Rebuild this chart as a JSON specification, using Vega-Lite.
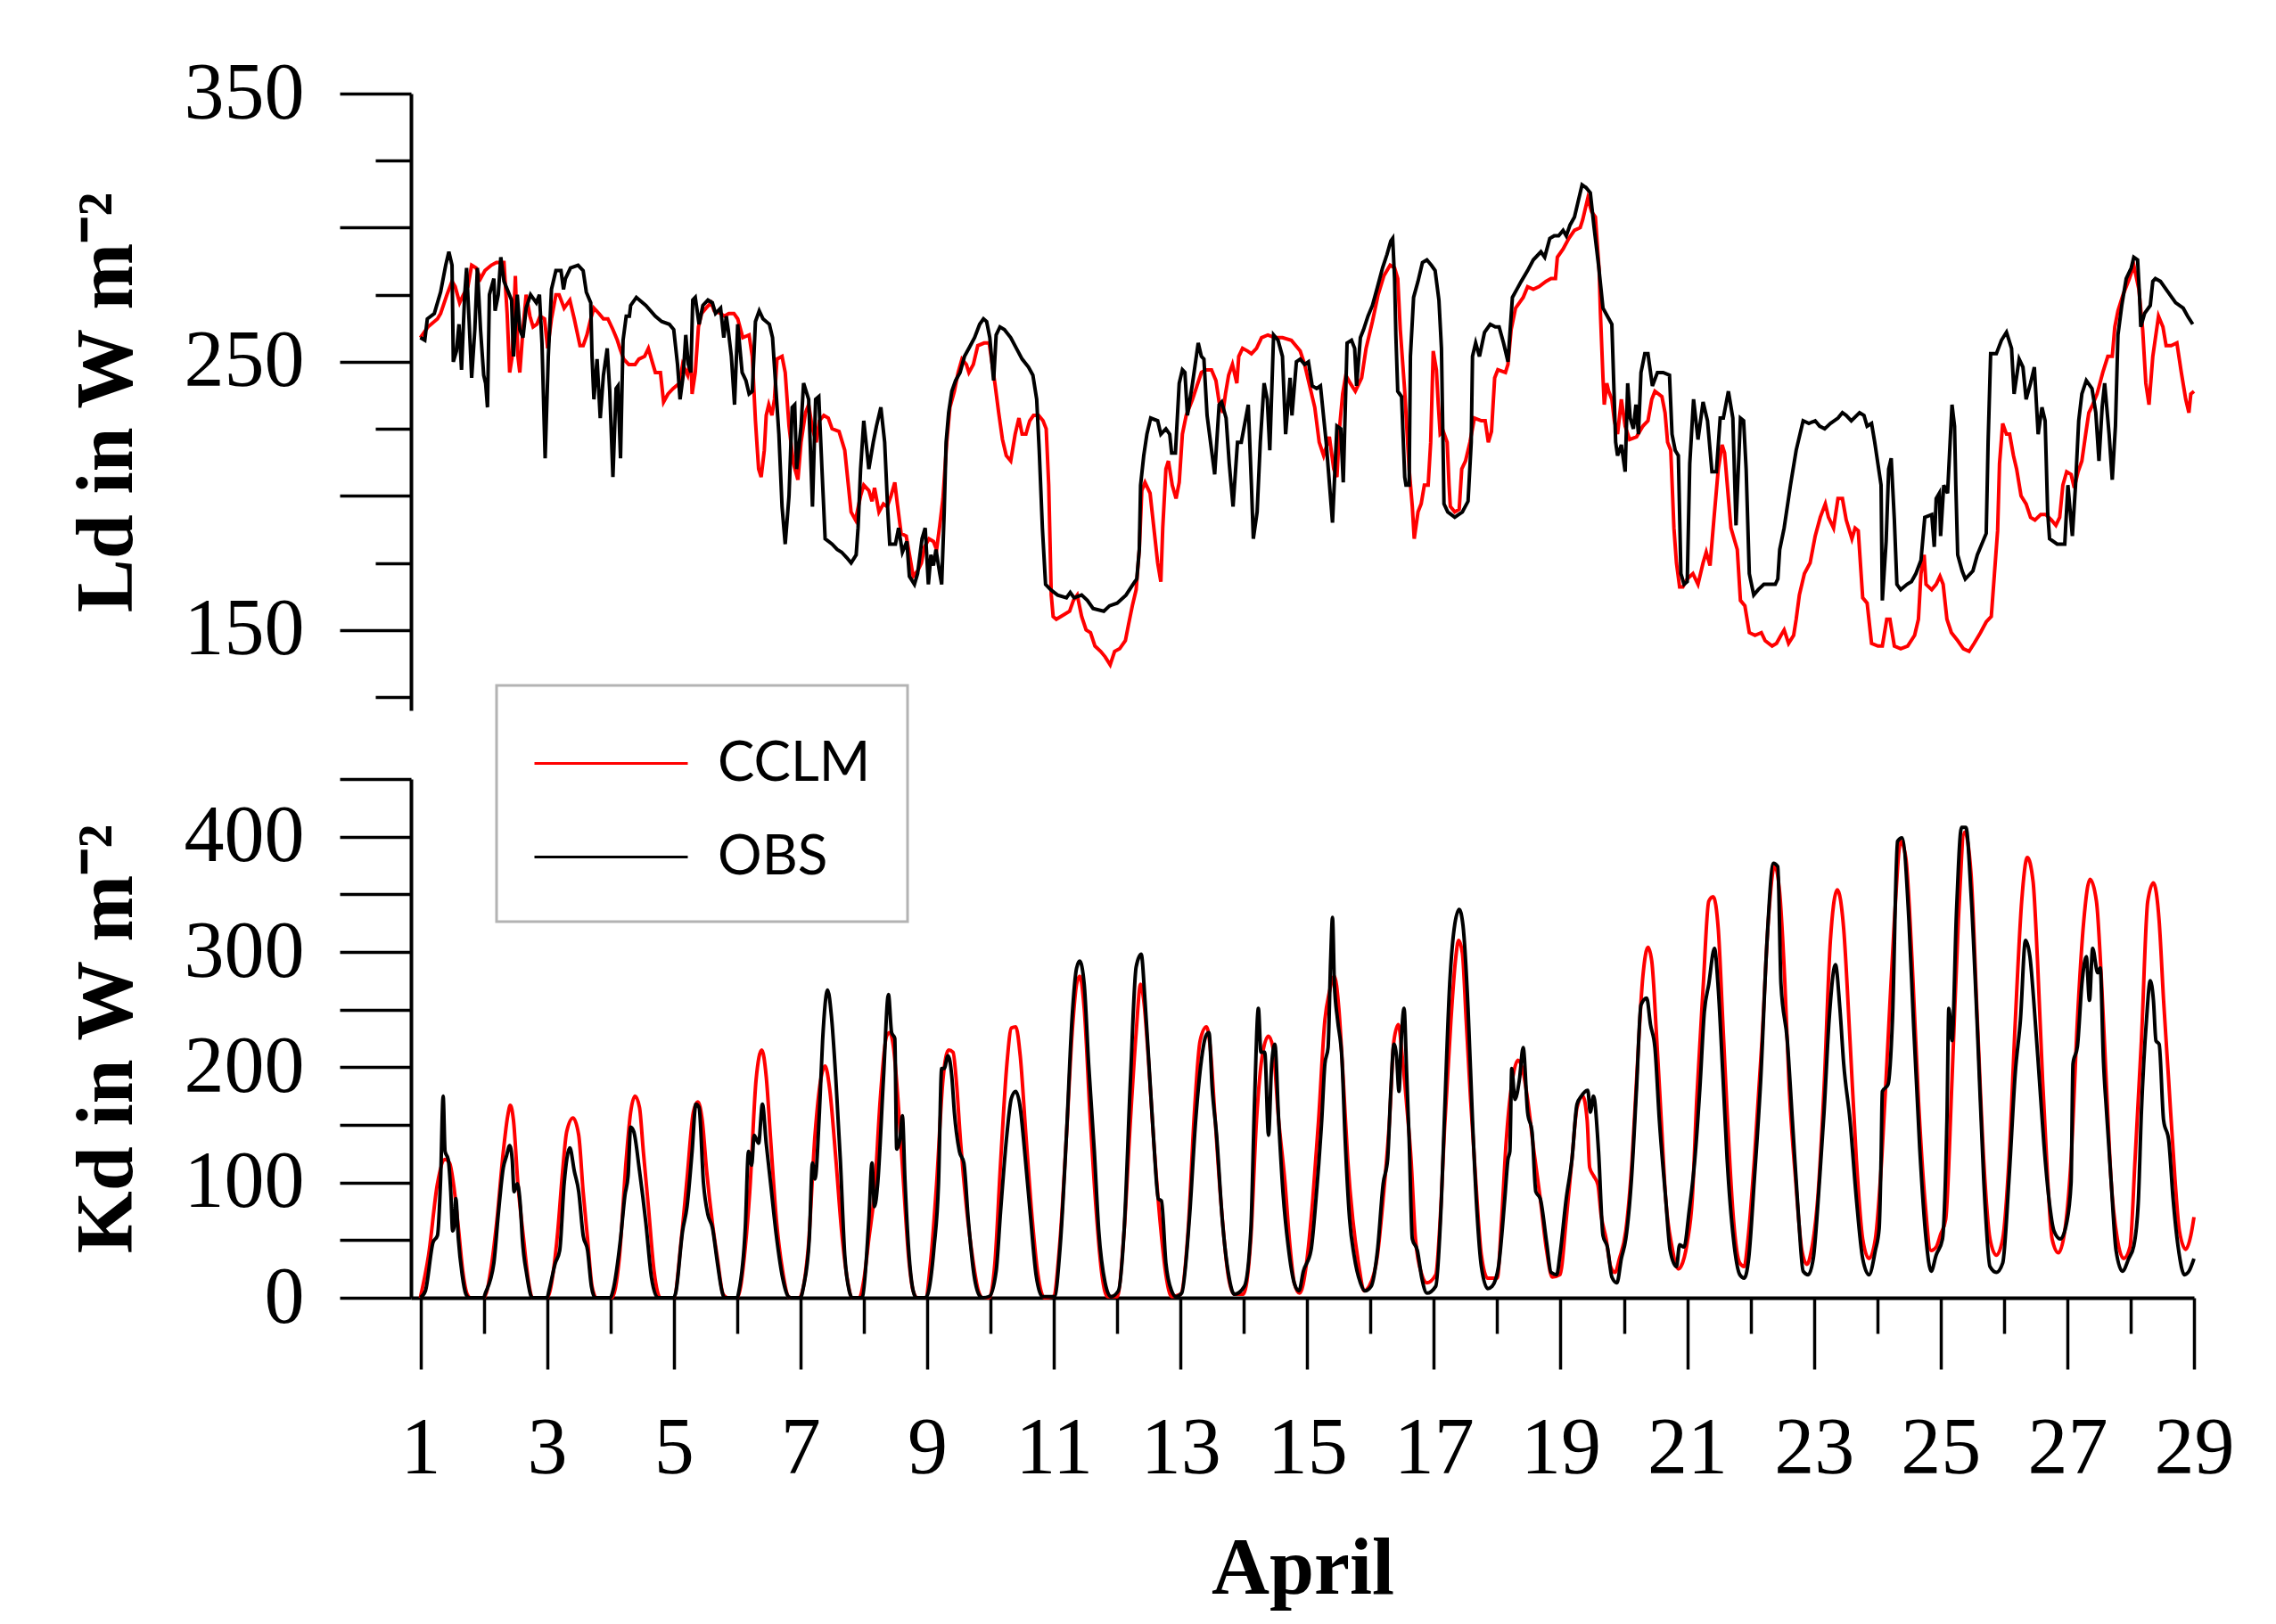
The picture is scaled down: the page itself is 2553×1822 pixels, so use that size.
{
  "$schema": "https://vega.github.io/schema/vega-lite/v6.json",
  "background": "white",
  "padding": {"left": 74, "top": 60, "right": 10, "bottom": 10},
  "datasets": {
    "ldC": [
      {"d":1.0,"v":259},{"d":1.12,"v":263},{"d":1.27,"v":266},{"d":1.32,"v":268},{"d":1.42,"v":275},{"d":1.5,"v":280},{"d":1.55,"v":278},{"d":1.62,"v":272},{"d":1.68,"v":275},{"d":1.75,"v":278},{"d":1.81,"v":286},{"d":1.88,"v":285},{"d":1.95,"v":281},{"d":2.02,"v":284},{"d":2.12,"v":286},{"d":2.2,"v":287},{"d":2.32,"v":287},{"d":2.37,"v":268},{"d":2.41,"v":246},{"d":2.45,"v":252},{"d":2.5,"v":282},{"d":2.54,"v":252},{"d":2.57,"v":246},{"d":2.62,"v":262},{"d":2.67,"v":275},{"d":2.73,"v":267},{"d":2.78,"v":263},{"d":2.84,"v":264},{"d":2.89,"v":267},{"d":2.96,"v":266},{"d":3.01,"v":255},{"d":3.07,"v":266},{"d":3.14,"v":275},{"d":3.19,"v":275},{"d":3.27,"v":270},{"d":3.36,"v":273},{"d":3.43,"v":266},{"d":3.52,"v":256},{"d":3.57,"v":256},{"d":3.63,"v":260},{"d":3.69,"v":266},{"d":3.74,"v":270},{"d":3.82,"v":268},{"d":3.89,"v":266},{"d":3.96,"v":266},{"d":4.04,"v":262},{"d":4.11,"v":258},{"d":4.15,"v":255},{"d":4.21,"v":251},{"d":4.29,"v":249},{"d":4.39,"v":249},{"d":4.45,"v":251},{"d":4.54,"v":252},{"d":4.6,"v":255},{"d":4.66,"v":250},{"d":4.71,"v":246},{"d":4.79,"v":246},{"d":4.84,"v":235},{"d":4.91,"v":238},{"d":4.99,"v":240},{"d":5.09,"v":242},{"d":5.14,"v":249},{"d":5.22,"v":245},{"d":5.27,"v":252},{"d":5.29,"v":238},{"d":5.34,"v":246},{"d":5.39,"v":263},{"d":5.44,"v":268},{"d":5.51,"v":270},{"d":5.59,"v":272},{"d":5.64,"v":269},{"d":5.74,"v":268},{"d":5.8,"v":267},{"d":5.87,"v":268},{"d":5.95,"v":268},{"d":6.01,"v":266},{"d":6.09,"v":259},{"d":6.19,"v":260},{"d":6.24,"v":252},{"d":6.29,"v":228},{"d":6.34,"v":210},{"d":6.38,"v":207},{"d":6.43,"v":217},{"d":6.46,"v":230},{"d":6.5,"v":234},{"d":6.55,"v":230},{"d":6.59,"v":236},{"d":6.63,"v":251},{"d":6.71,"v":252},{"d":6.76,"v":246},{"d":6.82,"v":226},{"d":6.89,"v":212},{"d":6.96,"v":206},{"d":7.01,"v":220},{"d":7.08,"v":231},{"d":7.13,"v":234},{"d":7.19,"v":225},{"d":7.25,"v":220},{"d":7.3,"v":228},{"d":7.37,"v":230},{"d":7.44,"v":229},{"d":7.5,"v":225},{"d":7.61,"v":224},{"d":7.7,"v":217},{"d":7.8,"v":194},{"d":7.87,"v":191},{"d":7.95,"v":200},{"d":8.0,"v":204},{"d":8.08,"v":202},{"d":8.13,"v":198},
      {"d":8.17,"v":203},{"d":8.24,"v":194},{"d":8.31,"v":197},{"d":8.37,"v":196},{"d":8.43,"v":200},{"d":8.49,"v":205},{"d":8.53,"v":197},{"d":8.59,"v":186},{"d":8.67,"v":185},{"d":8.73,"v":177},{"d":8.78,"v":170},{"d":8.85,"v":172},{"d":8.91,"v":175},{"d":8.96,"v":181},{"d":9.03,"v":184},{"d":9.1,"v":183},{"d":9.15,"v":180},{"d":9.2,"v":189},{"d":9.25,"v":199},{"d":9.31,"v":220},{"d":9.36,"v":233},{"d":9.43,"v":239},{"d":9.49,"v":246},{"d":9.55,"v":251},{"d":9.62,"v":249},{"d":9.66,"v":246},{"d":9.73,"v":249},{"d":9.8,"v":256},{"d":9.9,"v":257},{"d":9.98,"v":257},{"d":10.07,"v":242},{"d":10.13,"v":231},{"d":10.19,"v":221},{"d":10.25,"v":215},{"d":10.32,"v":213},{"d":10.39,"v":223},{"d":10.45,"v":229},{"d":10.5,"v":223},{"d":10.56,"v":223},{"d":10.62,"v":228},{"d":10.68,"v":230},{"d":10.76,"v":230},{"d":10.83,"v":228},{"d":10.88,"v":225},{"d":10.92,"v":204},{"d":10.96,"v":163},{"d":10.99,"v":155},{"d":11.04,"v":154},{"d":11.11,"v":155},{"d":11.18,"v":156},{"d":11.25,"v":157},{"d":11.31,"v":161},{"d":11.37,"v":163},{"d":11.44,"v":155},{"d":11.51,"v":150},{"d":11.58,"v":149},{"d":11.65,"v":144},{"d":11.74,"v":142},{"d":11.81,"v":140},{"d":11.89,"v":137},{"d":11.96,"v":142},{"d":12.04,"v":143},{"d":12.13,"v":146},{"d":12.18,"v":152},{"d":12.24,"v":159},{"d":12.3,"v":165},{"d":12.35,"v":180},{"d":12.39,"v":202},{"d":12.44,"v":205},{"d":12.52,"v":201},{"d":12.58,"v":188},{"d":12.64,"v":175},{"d":12.69,"v":168},{"d":12.72,"v":188},{"d":12.77,"v":210},{"d":12.81,"v":213},{"d":12.87,"v":204},{"d":12.93,"v":199},{"d":12.98,"v":205},{"d":13.03,"v":223},{"d":13.09,"v":230},{"d":13.19,"v":236},{"d":13.26,"v":241},{"d":13.33,"v":246},{"d":13.4,"v":247},{"d":13.49,"v":247},{"d":13.56,"v":243},{"d":13.61,"v":235},{"d":13.67,"v":231},{"d":13.71,"v":238},{"d":13.76,"v":245},{"d":13.82,"v":249},{"d":13.89,"v":242},{"d":13.92,"v":252},{"d":13.98,"v":255},{"d":14.06,"v":254},{"d":14.12,"v":253},{"d":14.2,"v":255},{"d":14.28,"v":259},{"d":14.38,"v":260},{"d":14.49,"v":259},{"d":14.61,"v":259},{"d":14.75,"v":258},{"d":14.89,"v":254},{"d":14.96,"v":249},{"d":15.03,"v":242},{"d":15.12,"v":233},{"d":15.19,"v":220},
      {"d":15.26,"v":215},{"d":15.35,"v":222},{"d":15.42,"v":210},{"d":15.47,"v":207},{"d":15.51,"v":225},{"d":15.56,"v":238},{"d":15.61,"v":245},{"d":15.68,"v":242},{"d":15.76,"v":239},{"d":15.86,"v":244},{"d":15.93,"v":255},{"d":16.03,"v":265},{"d":16.12,"v":275},{"d":16.21,"v":282},{"d":16.31,"v":286},{"d":16.38,"v":285},{"d":16.43,"v":281},{"d":16.47,"v":262},{"d":16.54,"v":239},{"d":16.61,"v":210},{"d":16.66,"v":196},{"d":16.69,"v":184},{"d":16.75,"v":194},{"d":16.8,"v":197},{"d":16.85,"v":204},{"d":16.91,"v":204},{"d":16.95,"v":220},{"d":16.99,"v":254},{"d":17.04,"v":247},{"d":17.07,"v":234},{"d":17.1,"v":223},{"d":17.15,"v":224},{"d":17.21,"v":220},{"d":17.24,"v":204},{"d":17.26,"v":196},{"d":17.33,"v":194},{"d":17.4,"v":195},{"d":17.44,"v":210},{"d":17.5,"v":213},{"d":17.57,"v":220},{"d":17.64,"v":229},{"d":17.75,"v":228},{"d":17.81,"v":228},{"d":17.86,"v":220},{"d":17.91,"v":224},{"d":17.96,"v":244},{"d":18.01,"v":247},{"d":18.13,"v":246},{"d":18.17,"v":249},{"d":18.22,"v":262},{"d":18.29,"v":270},{"d":18.41,"v":274},{"d":18.48,"v":278},{"d":18.57,"v":277},{"d":18.66,"v":278},{"d":18.77,"v":280},{"d":18.85,"v":281},{"d":18.92,"v":281},{"d":18.95,"v":289},{"d":19.04,"v":292},{"d":19.13,"v":296},{"d":19.22,"v":299},{"d":19.31,"v":300},{"d":19.35,"v":303},{"d":19.43,"v":311},{"d":19.49,"v":306},{"d":19.55,"v":304},{"d":19.61,"v":284},{"d":19.63,"v":268},{"d":19.67,"v":244},{"d":19.69,"v":234},{"d":19.73,"v":242},{"d":19.76,"v":239},{"d":19.81,"v":236},{"d":19.85,"v":228},{"d":19.9,"v":223},{"d":19.96,"v":236},{"d":20.02,"v":226},{"d":20.09,"v":221},{"d":20.2,"v":222},{"d":20.3,"v":226},{"d":20.38,"v":228},{"d":20.44,"v":236},{"d":20.49,"v":239},{"d":20.6,"v":237},{"d":20.65,"v":231},{"d":20.69,"v":220},{"d":20.74,"v":217},{"d":20.79,"v":188},{"d":20.83,"v":175},{"d":20.88,"v":166},{"d":20.93,"v":166},{"d":21.0,"v":169},{"d":21.09,"v":171},{"d":21.17,"v":167},{"d":21.25,"v":175},{"d":21.3,"v":179},{"d":21.36,"v":174},{"d":21.42,"v":191},{"d":21.49,"v":210},{"d":21.55,"v":219},{"d":21.59,"v":216},{"d":21.64,"v":202},{"d":21.69,"v":188},{"d":21.74,"v":184},{"d":21.79,"v":180},{"d":21.84,"v":161},{"d":21.91,"v":159},{"d":21.98,"v":149},{"d":22.07,"v":148},{"d":22.17,"v":149},{"d":22.23,"v":146},
      {"d":22.34,"v":144},{"d":22.41,"v":145},{"d":22.48,"v":148},{"d":22.53,"v":150},{"d":22.6,"v":145},{"d":22.68,"v":148},{"d":22.72,"v":154},{"d":22.77,"v":163},{"d":22.85,"v":171},{"d":22.94,"v":175},{"d":23.02,"v":185},{"d":23.1,"v":192},{"d":23.18,"v":197},{"d":23.23,"v":192},{"d":23.31,"v":188},{"d":23.38,"v":199},{"d":23.45,"v":199},{"d":23.51,"v":191},{"d":23.6,"v":184},{"d":23.65,"v":188},{"d":23.7,"v":187},{"d":23.77,"v":162},{"d":23.84,"v":160},{"d":23.91,"v":145},{"d":24.01,"v":144},{"d":24.08,"v":144},{"d":24.15,"v":154},{"d":24.2,"v":154},{"d":24.27,"v":144},{"d":24.37,"v":143},{"d":24.48,"v":144},{"d":24.59,"v":148},{"d":24.65,"v":154},{"d":24.69,"v":171},{"d":24.74,"v":178},{"d":24.77,"v":167},{"d":24.86,"v":165},{"d":24.93,"v":167},{"d":24.99,"v":170},{"d":25.04,"v":167},{"d":25.1,"v":154},{"d":25.17,"v":149},{"d":25.27,"v":146},{"d":25.36,"v":143},{"d":25.45,"v":142},{"d":25.53,"v":145},{"d":25.63,"v":149},{"d":25.72,"v":153},{"d":25.8,"v":155},{"d":25.85,"v":171},{"d":25.9,"v":187},{"d":25.93,"v":212},{"d":25.98,"v":227},{"d":26.04,"v":223},{"d":26.09,"v":223},{"d":26.15,"v":215},{"d":26.2,"v":210},{"d":26.27,"v":200},{"d":26.35,"v":197},{"d":26.42,"v":192},{"d":26.49,"v":191},{"d":26.58,"v":193},{"d":26.66,"v":193},{"d":26.75,"v":191},{"d":26.82,"v":189},{"d":26.88,"v":192},{"d":26.93,"v":204},{"d":26.99,"v":209},{"d":27.06,"v":208},{"d":27.11,"v":203},{"d":27.17,"v":209},{"d":27.23,"v":213},{"d":27.29,"v":223},{"d":27.34,"v":231},{"d":27.4,"v":234},{"d":27.47,"v":238},{"d":27.56,"v":246},{"d":27.64,"v":252},{"d":27.71,"v":252},{"d":27.75,"v":263},{"d":27.8,"v":269},{"d":27.88,"v":275},{"d":27.98,"v":281},{"d":28.05,"v":286},{"d":28.13,"v":277},{"d":28.19,"v":262},{"d":28.24,"v":242},{"d":28.29,"v":234},{"d":28.35,"v":252},{"d":28.44,"v":267},{"d":28.51,"v":263},{"d":28.56,"v":256},{"d":28.64,"v":256},{"d":28.73,"v":257},{"d":28.8,"v":246},{"d":28.87,"v":236},{"d":28.92,"v":231},{"d":28.95,"v":238},{"d":29.0,"v":239}
    ],
    "ldO": [
      {"d":1.0,"v":259},{"d":1.07,"v":258},{"d":1.11,"v":266},{"d":1.22,"v":268},{"d":1.32,"v":276},{"d":1.4,"v":286},{"d":1.45,"v":291},{"d":1.5,"v":286},{"d":1.52,"v":250},{"d":1.57,"v":254},{"d":1.61,"v":264},{"d":1.65,"v":247},{"d":1.7,"v":275},{"d":1.73,"v":285},{"d":1.77,"v":265},{"d":1.81,"v":244},{"d":1.86,"v":262},{"d":1.9,"v":285},{"d":1.95,"v":262},{"d":2.0,"v":245},{"d":2.03,"v":242},{"d":2.06,"v":233},{"d":2.09,"v":275},{"d":2.16,"v":281},{"d":2.18,"v":269},{"d":2.23,"v":275},{"d":2.27,"v":289},{"d":2.32,"v":280},{"d":2.44,"v":273},{"d":2.47,"v":252},{"d":2.53,"v":275},{"d":2.57,"v":262},{"d":2.62,"v":259},{"d":2.67,"v":270},{"d":2.74,"v":275},{"d":2.83,"v":272},{"d":2.88,"v":275},{"d":2.92,"v":257},{"d":2.97,"v":214},{"d":3.02,"v":252},{"d":3.07,"v":277},{"d":3.14,"v":284},{"d":3.22,"v":284},{"d":3.26,"v":277},{"d":3.29,"v":281},{"d":3.37,"v":285},{"d":3.49,"v":286},{"d":3.57,"v":284},{"d":3.62,"v":276},{"d":3.69,"v":272},{"d":3.71,"v":252},{"d":3.74,"v":236},{"d":3.79,"v":251},{"d":3.84,"v":229},{"d":3.89,"v":245},{"d":3.95,"v":255},{"d":3.99,"v":239},{"d":4.04,"v":207},{"d":4.09,"v":240},{"d":4.12,"v":241},{"d":4.16,"v":214},{"d":4.2,"v":258},{"d":4.25,"v":267},{"d":4.3,"v":267},{"d":4.32,"v":271},{"d":4.41,"v":274},{"d":4.56,"v":271},{"d":4.71,"v":267},{"d":4.81,"v":265},{"d":4.93,"v":264},{"d":5.0,"v":262},{"d":5.06,"v":249},{"d":5.1,"v":236},{"d":5.15,"v":245},{"d":5.19,"v":260},{"d":5.23,"v":249},{"d":5.27,"v":246},{"d":5.3,"v":273},{"d":5.34,"v":274},{"d":5.4,"v":264},{"d":5.46,"v":271},{"d":5.54,"v":273},{"d":5.61,"v":272},{"d":5.66,"v":268},{"d":5.74,"v":270},{"d":5.79,"v":259},{"d":5.83,"v":267},{"d":5.86,"v":262},{"d":5.91,"v":252},{"d":5.96,"v":234},{"d":6.01,"v":264},{"d":6.08,"v":246},{"d":6.14,"v":243},{"d":6.19,"v":238},{"d":6.24,"v":239},{"d":6.29,"v":265},{"d":6.35,"v":269},{"d":6.41,"v":266},{"d":6.51,"v":264},{"d":6.56,"v":259},{"d":6.66,"v":223},{"d":6.71,"v":196},{"d":6.76,"v":182},{"d":6.82,"v":200},{"d":6.87,"v":233},{"d":6.91,"v":234},{"d":6.94,"v":210},{"d":7.01,"v":226},{"d":7.05,"v":242},{"d":7.13,"v":236},{"d":7.19,"v":196},{"d":7.24,"v":236},{"d":7.29,"v":237},{"d":7.34,"v":210},{"d":7.39,"v":184},{"d":7.5,"v":182},{"d":7.58,"v":180},{"d":7.65,"v":179},{"d":7.73,"v":177},{"d":7.8,"v":175},{"d":7.88,"v":178},{"d":7.91,"v":188},{"d":7.95,"v":210},{"d":8.0,"v":228},{"d":8.08,"v":210},{"d":8.15,"v":220},
      {"d":8.2,"v":226},{"d":8.27,"v":233},{"d":8.33,"v":220},{"d":8.38,"v":194},{"d":8.41,"v":182},{"d":8.5,"v":182},{"d":8.55,"v":188},{"d":8.61,"v":179},{"d":8.68,"v":183},{"d":8.72,"v":170},{"d":8.8,"v":167},{"d":8.85,"v":171},{"d":8.92,"v":184},{"d":8.97,"v":188},{"d":9.02,"v":167},{"d":9.06,"v":178},{"d":9.1,"v":174},{"d":9.14,"v":180},{"d":9.2,"v":171},{"d":9.23,"v":167},{"d":9.27,"v":194},{"d":9.3,"v":220},{"d":9.34,"v":231},{"d":9.39,"v":239},{"d":9.45,"v":243},{"d":9.52,"v":246},{"d":9.59,"v":252},{"d":9.66,"v":255},{"d":9.75,"v":259},{"d":9.83,"v":264},{"d":9.89,"v":266},{"d":9.94,"v":265},{"d":9.99,"v":259},{"d":10.05,"v":243},{"d":10.09,"v":260},{"d":10.15,"v":263},{"d":10.22,"v":262},{"d":10.32,"v":259},{"d":10.41,"v":255},{"d":10.5,"v":251},{"d":10.6,"v":248},{"d":10.67,"v":245},{"d":10.73,"v":236},{"d":10.77,"v":217},{"d":10.82,"v":188},{"d":10.87,"v":167},{"d":10.95,"v":165},{"d":11.06,"v":163},{"d":11.2,"v":162},{"d":11.26,"v":164},{"d":11.32,"v":162},{"d":11.44,"v":163},{"d":11.53,"v":161},{"d":11.62,"v":158},{"d":11.79,"v":157},{"d":11.88,"v":159},{"d":12.0,"v":160},{"d":12.14,"v":163},{"d":12.25,"v":167},{"d":12.31,"v":169},{"d":12.35,"v":180},{"d":12.37,"v":204},{"d":12.42,"v":215},{"d":12.47,"v":223},{"d":12.53,"v":229},{"d":12.64,"v":228},{"d":12.69,"v":223},{"d":12.77,"v":225},{"d":12.83,"v":223},{"d":12.86,"v":216},{"d":12.92,"v":216},{"d":12.98,"v":242},{"d":13.03,"v":247},{"d":13.07,"v":246},{"d":13.11,"v":230},{"d":13.19,"v":242},{"d":13.28,"v":257},{"d":13.33,"v":252},{"d":13.37,"v":251},{"d":13.42,"v":230},{"d":13.54,"v":208},{"d":13.61,"v":234},{"d":13.65,"v":235},{"d":13.72,"v":229},{"d":13.77,"v":212},{"d":13.83,"v":196},{"d":13.9,"v":220},{"d":13.96,"v":220},{"d":14.07,"v":234},{"d":14.12,"v":204},{"d":14.15,"v":184},{"d":14.21,"v":194},{"d":14.26,"v":220},{"d":14.32,"v":242},{"d":14.37,"v":236},{"d":14.41,"v":217},{"d":14.47,"v":260},{"d":14.54,"v":258},{"d":14.61,"v":252},{"d":14.66,"v":223},{"d":14.73,"v":244},{"d":14.76,"v":230},{"d":14.83,"v":250},{"d":14.89,"v":251},{"d":14.96,"v":249},{"d":15.02,"v":250},{"d":15.08,"v":241},{"d":15.15,"v":240},
      {"d":15.21,"v":241},{"d":15.3,"v":220},{"d":15.4,"v":190},{"d":15.47,"v":226},{"d":15.53,"v":225},{"d":15.57,"v":205},{"d":15.63,"v":257},{"d":15.7,"v":258},{"d":15.75,"v":255},{"d":15.78,"v":241},{"d":15.84,"v":259},{"d":15.89,"v":262},{"d":15.96,"v":267},{"d":16.03,"v":271},{"d":16.1,"v":277},{"d":16.19,"v":285},{"d":16.26,"v":290},{"d":16.32,"v":295},{"d":16.35,"v":296},{"d":16.38,"v":281},{"d":16.4,"v":260},{"d":16.43,"v":239},{"d":16.49,"v":237},{"d":16.54,"v":207},{"d":16.56,"v":204},{"d":16.61,"v":204},{"d":16.63,"v":252},{"d":16.68,"v":274},{"d":16.75,"v":280},{"d":16.82,"v":287},{"d":16.89,"v":288},{"d":16.96,"v":286},{"d":17.02,"v":284},{"d":17.08,"v":273},{"d":17.12,"v":255},{"d":17.16,"v":197},{"d":17.22,"v":194},{"d":17.33,"v":192},{"d":17.45,"v":194},{"d":17.54,"v":198},{"d":17.59,"v":220},{"d":17.61,"v":252},{"d":17.66,"v":257},{"d":17.72,"v":252},{"d":17.8,"v":261},{"d":17.89,"v":264},{"d":17.97,"v":263},{"d":18.03,"v":263},{"d":18.1,"v":257},{"d":18.17,"v":250},{"d":18.24,"v":274},{"d":18.31,"v":277},{"d":18.38,"v":280},{"d":18.48,"v":284},{"d":18.57,"v":288},{"d":18.69,"v":291},{"d":18.75,"v":289},{"d":18.83,"v":296},{"d":18.9,"v":297},{"d":18.97,"v":297},{"d":19.04,"v":299},{"d":19.09,"v":297},{"d":19.15,"v":301},{"d":19.22,"v":304},{"d":19.27,"v":309},{"d":19.34,"v":316},{"d":19.4,"v":315},{"d":19.47,"v":313},{"d":19.53,"v":300},{"d":19.6,"v":286},{"d":19.67,"v":270},{"d":19.74,"v":267},{"d":19.81,"v":264},{"d":19.84,"v":242},{"d":19.87,"v":220},{"d":19.9,"v":215},{"d":19.96,"v":219},{"d":20.02,"v":209},{"d":20.06,"v":242},{"d":20.1,"v":229},{"d":20.15,"v":225},{"d":20.19,"v":234},{"d":20.23,"v":223},{"d":20.27,"v":246},{"d":20.33,"v":253},{"d":20.38,"v":253},{"d":20.45,"v":241},{"d":20.53,"v":246},{"d":20.62,"v":246},{"d":20.72,"v":245},{"d":20.76,"v":223},{"d":20.81,"v":217},{"d":20.86,"v":215},{"d":20.9,"v":171},{"d":20.95,"v":167},{"d":21.0,"v":168},{"d":21.04,"v":212},{"d":21.1,"v":236},{"d":21.17,"v":221},{"d":21.25,"v":235},{"d":21.32,"v":228},{"d":21.39,"v":209},{"d":21.46,"v":209},{"d":21.52,"v":229},{"d":21.57,"v":229},{"d":21.65,"v":239},{"d":21.72,"v":229},{"d":21.77,"v":189},{"d":21.84,"v":229},{"d":21.89,"v":228},{"d":21.93,"v":210},{"d":21.98,"v":171},{"d":22.05,"v":163},{"d":22.12,"v":165},{"d":22.21,"v":167},
      {"d":22.39,"v":167},{"d":22.43,"v":169},{"d":22.46,"v":180},{"d":22.53,"v":188},{"d":22.63,"v":204},{"d":22.72,"v":217},{"d":22.83,"v":228},{"d":22.92,"v":227},{"d":23.02,"v":228},{"d":23.09,"v":226},{"d":23.17,"v":225},{"d":23.26,"v":227},{"d":23.38,"v":229},{"d":23.45,"v":231},{"d":23.51,"v":230},{"d":23.59,"v":228},{"d":23.72,"v":231},{"d":23.79,"v":230},{"d":23.84,"v":226},{"d":23.91,"v":227},{"d":23.96,"v":220},{"d":24.06,"v":204},{"d":24.08,"v":161},{"d":24.14,"v":183},{"d":24.18,"v":210},{"d":24.22,"v":214},{"d":24.27,"v":191},{"d":24.31,"v":167},{"d":24.37,"v":165},{"d":24.47,"v":167},{"d":24.54,"v":168},{"d":24.61,"v":171},{"d":24.69,"v":176},{"d":24.75,"v":192},{"d":24.86,"v":193},{"d":24.9,"v":181},{"d":24.93,"v":199},{"d":24.98,"v":201},{"d":25.0,"v":185},{"d":25.05,"v":204},{"d":25.11,"v":201},{"d":25.15,"v":220},{"d":25.18,"v":234},{"d":25.22,"v":226},{"d":25.24,"v":204},{"d":25.27,"v":178},{"d":25.34,"v":172},{"d":25.39,"v":169},{"d":25.51,"v":172},{"d":25.58,"v":178},{"d":25.72,"v":186},{"d":25.75,"v":220},{"d":25.79,"v":253},{"d":25.88,"v":253},{"d":25.96,"v":258},{"d":26.04,"v":261},{"d":26.12,"v":255},{"d":26.16,"v":238},{"d":26.24,"v":251},{"d":26.3,"v":248},{"d":26.35,"v":236},{"d":26.42,"v":242},{"d":26.48,"v":248},{"d":26.54,"v":223},{"d":26.6,"v":233},{"d":26.65,"v":228},{"d":26.69,"v":194},{"d":26.72,"v":184},{"d":26.84,"v":182},{"d":26.96,"v":182},{"d":27.01,"v":204},{"d":27.08,"v":185},{"d":27.13,"v":204},{"d":27.18,"v":228},{"d":27.23,"v":238},{"d":27.3,"v":243},{"d":27.39,"v":240},{"d":27.45,"v":231},{"d":27.5,"v":213},{"d":27.55,"v":233},{"d":27.59,"v":242},{"d":27.66,"v":223},{"d":27.71,"v":206},{"d":27.76,"v":226},{"d":27.8,"v":260},{"d":27.86,"v":271},{"d":27.93,"v":281},{"d":28.01,"v":285},{"d":28.05,"v":289},{"d":28.11,"v":288},{"d":28.14,"v":275},{"d":28.16,"v":263},{"d":28.22,"v":268},{"d":28.31,"v":271},{"d":28.35,"v":280},{"d":28.39,"v":281},{"d":28.47,"v":280},{"d":28.59,"v":276},{"d":28.71,"v":272},{"d":28.83,"v":270},{"d":28.9,"v":267},{"d":28.98,"v":264}
    ],
    "kdC": [
      {"d":1.0,"v":0},{"d":1.13,"v":37},{"d":1.27,"v":99},{"d":1.39,"v":120},{"d":1.46,"v":117},{"d":1.53,"v":96},{"d":1.6,"v":61},{"d":1.67,"v":23},{"d":1.74,"v":3},{"d":1.79,"v":0},
      {"d":2.0,"v":0},{"d":2.12,"v":27},{"d":2.21,"v":68},{"d":2.31,"v":127},{"d":2.38,"v":158},{"d":2.42,"v":167},{"d":2.47,"v":154},{"d":2.54,"v":99},{"d":2.63,"v":51},{"d":2.7,"v":17},{"d":2.77,"v":0},
      {"d":3.0,"v":0},{"d":3.1,"v":23},{"d":3.17,"v":58},{"d":3.24,"v":106},{"d":3.31,"v":144},{"d":3.41,"v":156},{"d":3.5,"v":141},{"d":3.57,"v":92},{"d":3.64,"v":51},{"d":3.71,"v":10},{"d":3.78,"v":0},
      {"d":4.02,"v":0},{"d":4.14,"v":34},{"d":4.25,"v":120},{"d":4.32,"v":161},{"d":4.39,"v":175},{"d":4.46,"v":165},{"d":4.52,"v":127},{"d":4.6,"v":79},{"d":4.69,"v":23},{"d":4.79,"v":0},
      {"d":5.0,"v":0},{"d":5.12,"v":51},{"d":5.21,"v":103},{"d":5.31,"v":161},{"d":5.38,"v":170},{"d":5.45,"v":154},{"d":5.52,"v":110},{"d":5.61,"v":65},{"d":5.69,"v":34},{"d":5.78,"v":3},{"d":5.85,"v":0},
      {"d":6.0,"v":0},{"d":6.13,"v":44},{"d":6.2,"v":92},{"d":6.3,"v":189},{"d":6.39,"v":215},{"d":6.46,"v":192},{"d":6.53,"v":137},{"d":6.62,"v":68},{"d":6.72,"v":23},{"d":6.81,"v":1},{"d":6.85,"v":0},
      {"d":6.98,"v":0},{"d":7.12,"v":41},{"d":7.23,"v":141},{"d":7.32,"v":189},{"d":7.39,"v":201},{"d":7.46,"v":182},{"d":7.56,"v":120},{"d":7.65,"v":58},{"d":7.75,"v":13},{"d":7.82,"v":0},
      {"d":7.93,"v":0},{"d":8.0,"v":15},{"d":8.08,"v":51},{"d":8.17,"v":92},{"d":8.26,"v":172},{"d":8.36,"v":227},{"d":8.41,"v":230},{"d":8.47,"v":217},{"d":8.54,"v":172},{"d":8.62,"v":106},{"d":8.71,"v":34},{"d":8.78,"v":6},{"d":8.85,"v":0},
      {"d":8.97,"v":0},{"d":9.06,"v":34},{"d":9.15,"v":99},{"d":9.25,"v":189},{"d":9.34,"v":215},{"d":9.41,"v":213},{"d":9.46,"v":189},{"d":9.53,"v":134},{"d":9.62,"v":79},{"d":9.72,"v":34},{"d":9.81,"v":6},{"d":9.88,"v":0},
      {"d":9.98,"v":0},{"d":10.07,"v":30},{"d":10.16,"v":117},{"d":10.26,"v":203},{"d":10.33,"v":234},{"d":10.4,"v":235},{"d":10.47,"v":210},{"d":10.56,"v":141},{"d":10.66,"v":68},{"d":10.75,"v":20},{"d":10.85,"v":0},
      {"d":10.99,"v":1},{"d":11.1,"v":51},{"d":11.2,"v":141},{"d":11.29,"v":230},{"d":11.36,"v":272},{"d":11.41,"v":279},{"d":11.48,"v":251},{"d":11.57,"v":161},{"d":11.67,"v":75},{"d":11.76,"v":20},{"d":11.85,"v":1},{"d":11.92,"v":1},
      {"d":12.0,"v":1},{"d":12.11,"v":58},{"d":12.21,"v":154},{"d":12.3,"v":230},{"d":12.37,"v":272},{"d":12.42,"v":258},{"d":12.49,"v":210},{"d":12.58,"v":134},{"d":12.68,"v":65},{"d":12.77,"v":20},{"d":12.86,"v":1},
      {"d":13.0,"v":3},{"d":13.12,"v":58},{"d":13.22,"v":161},{"d":13.31,"v":223},{"d":13.41,"v":235},{"d":13.47,"v":217},{"d":13.54,"v":161},{"d":13.64,"v":82},{"d":13.76,"v":17},{"d":13.85,"v":3},
      {"d":13.99,"v":3},{"d":14.11,"v":51},{"d":14.2,"v":154},{"d":14.3,"v":213},{"d":14.39,"v":227},{"d":14.46,"v":217},{"d":14.55,"v":154},{"d":14.65,"v":100},{"d":14.72,"v":50},{"d":14.8,"v":12},{"d":14.88,"v":4},
      {"d":14.99,"v":30},{"d":15.09,"v":86},{"d":15.18,"v":154},{"d":15.28,"v":241},{"d":15.35,"v":265},{"d":15.43,"v":279},{"d":15.5,"v":251},{"d":15.57,"v":189},{"d":15.64,"v":120},{"d":15.72,"v":68},{"d":15.81,"v":30},{"d":15.9,"v":6},
      {"d":15.98,"v":10},{"d":16.11,"v":37},{"d":16.2,"v":86},{"d":16.3,"v":154},{"d":16.37,"v":223},{"d":16.44,"v":237},{"d":16.5,"v":210},{"d":16.57,"v":168},{"d":16.64,"v":120},{"d":16.71,"v":51},{"d":16.81,"v":20},{"d":16.89,"v":13},
      {"d":17.03,"v":20},{"d":17.1,"v":68},{"d":17.17,"v":148},{"d":17.27,"v":241},{"d":17.34,"v":292},{"d":17.39,"v":310},{"d":17.45,"v":299},{"d":17.51,"v":241},{"d":17.58,"v":172},{"d":17.66,"v":103},{"d":17.75,"v":37},{"d":17.85,"v":17},
      {"d":18.0,"v":17},{"d":18.07,"v":68},{"d":18.14,"v":134},{"d":18.24,"v":189},{"d":18.33,"v":206},{"d":18.41,"v":196},{"d":18.48,"v":172},{"d":18.58,"v":127},{"d":18.68,"v":86},{"d":18.78,"v":41},{"d":18.87,"v":18},
      {"d":18.99,"v":20},{"d":19.09,"v":68},{"d":19.18,"v":120},{"d":19.26,"v":165},{"d":19.35,"v":175},{"d":19.42,"v":154},{"d":19.46,"v":113},{"d":19.52,"v":106},{"d":19.59,"v":98},{"d":19.64,"v":72},{"d":19.72,"v":51},{"d":19.79,"v":27},{"d":19.86,"v":22},{"d":19.93,"v":34},
      {"d":20.03,"v":58},{"d":20.13,"v":120},{"d":20.2,"v":189},{"d":20.3,"v":279},{"d":20.38,"v":304},{"d":20.44,"v":292},{"d":20.52,"v":223},{"d":20.59,"v":154},{"d":20.66,"v":86},{"d":20.76,"v":44},{"d":20.86,"v":25},{"d":20.9,"v":27},
      {"d":21.0,"v":48},{"d":21.08,"v":86},{"d":21.15,"v":172},{"d":21.25,"v":268},{"d":21.34,"v":344},{"d":21.41,"v":348},{"d":21.49,"v":320},{"d":21.56,"v":241},{"d":21.63,"v":161},{"d":21.73,"v":68},{"d":21.83,"v":30},{"d":21.9,"v":27},
      {"d":21.96,"v":51},{"d":22.06,"v":120},{"d":22.18,"v":223},{"d":22.28,"v":327},{"d":22.38,"v":375},{"d":22.46,"v":351},{"d":22.54,"v":275},{"d":22.61,"v":182},{"d":22.71,"v":103},{"d":22.81,"v":41},{"d":22.89,"v":29},{"d":22.96,"v":41},
      {"d":23.06,"v":86},{"d":23.16,"v":182},{"d":23.26,"v":310},{"d":23.37,"v":354},{"d":23.47,"v":320},{"d":23.57,"v":223},{"d":23.67,"v":120},{"d":23.77,"v":51},{"d":23.87,"v":34},{"d":23.97,"v":51},
      {"d":24.07,"v":120},{"d":24.17,"v":223},{"d":24.27,"v":327},{"d":24.37,"v":396},{"d":24.45,"v":382},{"d":24.55,"v":292},{"d":24.65,"v":172},{"d":24.75,"v":86},{"d":24.85,"v":41},{"d":24.93,"v":44},
      {"d":25.0,"v":55},{"d":25.08,"v":68},{"d":25.18,"v":189},{"d":25.28,"v":327},{"d":25.38,"v":404},{"d":25.48,"v":368},{"d":25.58,"v":241},{"d":25.68,"v":120},{"d":25.78,"v":51},{"d":25.88,"v":37},{"d":25.98,"v":51},
      {"d":26.08,"v":120},{"d":26.18,"v":241},{"d":26.28,"v":344},{"d":26.37,"v":382},{"d":26.46,"v":361},{"d":26.53,"v":292},{"d":26.61,"v":189},{"d":26.69,"v":103},{"d":26.76,"v":51},{"d":26.86,"v":39},{"d":26.96,"v":58},
      {"d":27.06,"v":120},{"d":27.16,"v":241},{"d":27.26,"v":327},{"d":27.36,"v":363},{"d":27.46,"v":344},{"d":27.54,"v":275},{"d":27.62,"v":182},{"d":27.69,"v":103},{"d":27.79,"v":51},{"d":27.89,"v":34},{"d":27.99,"v":44},
      {"d":28.07,"v":120},{"d":28.17,"v":223},{"d":28.27,"v":344},{"d":28.36,"v":360},{"d":28.45,"v":327},{"d":28.52,"v":258},{"d":28.6,"v":189},{"d":28.7,"v":103},{"d":28.77,"v":58},{"d":28.87,"v":42},{"d":28.95,"v":54},{"d":29.0,"v":70}
    ],
    "kdO": [
      {"d":1.0,"v":0},{"d":1.08,"v":6},{"d":1.2,"v":48},{"d":1.27,"v":54},{"d":1.32,"v":103},{"d":1.36,"v":175},{"d":1.39,"v":127},{"d":1.44,"v":120},{"d":1.48,"v":92},{"d":1.51,"v":58},{"d":1.53,"v":61},{"d":1.56,"v":86},{"d":1.6,"v":51},{"d":1.66,"v":20},{"d":1.72,"v":3},{"d":1.77,"v":0},
      {"d":2.0,"v":0},{"d":2.02,"v":3},{"d":2.16,"v":30},{"d":2.23,"v":72},{"d":2.31,"v":113},{"d":2.36,"v":123},{"d":2.41,"v":132},{"d":2.45,"v":120},{"d":2.48,"v":92},{"d":2.53,"v":99},{"d":2.58,"v":79},{"d":2.61,"v":51},{"d":2.68,"v":20},{"d":2.75,"v":1},{"d":2.77,"v":0},
      {"d":3.0,"v":0},{"d":3.03,"v":6},{"d":3.13,"v":30},{"d":3.2,"v":41},{"d":3.27,"v":99},{"d":3.36,"v":130},{"d":3.43,"v":110},{"d":3.5,"v":92},{"d":3.57,"v":54},{"d":3.64,"v":41},{"d":3.7,"v":10},{"d":3.76,"v":0},
      {"d":4.0,"v":0},{"d":4.04,"v":6},{"d":4.16,"v":51},{"d":4.23,"v":89},{"d":4.28,"v":106},{"d":4.32,"v":148},{"d":4.37,"v":144},{"d":4.46,"v":110},{"d":4.56,"v":65},{"d":4.65,"v":17},{"d":4.75,"v":0},
      {"d":5.0,"v":0},{"d":5.03,"v":4},{"d":5.14,"v":58},{"d":5.21,"v":79},{"d":5.29,"v":127},{"d":5.35,"v":168},{"d":5.4,"v":165},{"d":5.47,"v":99},{"d":5.54,"v":72},{"d":5.61,"v":61},{"d":5.69,"v":30},{"d":5.76,"v":6},{"d":5.8,"v":0},
      {"d":6.0,"v":0},{"d":6.03,"v":6},{"d":6.13,"v":61},{"d":6.18,"v":127},{"d":6.23,"v":115},{"d":6.27,"v":141},{"d":6.34,"v":134},{"d":6.4,"v":168},{"d":6.46,"v":134},{"d":6.53,"v":99},{"d":6.62,"v":54},{"d":6.72,"v":17},{"d":6.81,"v":1},{"d":6.85,"v":0},
      {"d":7.0,"v":0},{"d":7.05,"v":10},{"d":7.14,"v":51},{"d":7.19,"v":117},{"d":7.23,"v":103},{"d":7.3,"v":161},{"d":7.35,"v":223},{"d":7.43,"v":267},{"d":7.49,"v":244},{"d":7.56,"v":189},{"d":7.63,"v":120},{"d":7.7,"v":37},{"d":7.77,"v":6},{"d":7.82,"v":0},
      {"d":7.95,"v":0},{"d":7.98,"v":1},{"d":8.08,"v":68},{"d":8.13,"v":117},{"d":8.17,"v":79},{"d":8.22,"v":99},{"d":8.31,"v":189},{"d":8.39,"v":263},{"d":8.44,"v":230},{"d":8.49,"v":225},{"d":8.52,"v":129},{"d":8.57,"v":137},{"d":8.61,"v":158},{"d":8.65,"v":103},{"d":8.71,"v":41},{"d":8.78,"v":6},{"d":8.83,"v":0},
      {"d":8.97,"v":0},{"d":9.01,"v":3},{"d":9.11,"v":44},{"d":9.18,"v":99},{"d":9.23,"v":199},{"d":9.27,"v":199},{"d":9.33,"v":210},{"d":9.39,"v":192},{"d":9.43,"v":161},{"d":9.51,"v":127},{"d":9.58,"v":117},{"d":9.65,"v":68},{"d":9.74,"v":20},{"d":9.84,"v":1},{"d":9.88,"v":0},
      {"d":9.98,"v":1},{"d":10.09,"v":23},{"d":10.16,"v":75},{"d":10.26,"v":142},{"d":10.33,"v":173},{"d":10.4,"v":179},{"d":10.47,"v":165},{"d":10.54,"v":127},{"d":10.63,"v":72},{"d":10.72,"v":20},{"d":10.82,"v":1},
      {"d":11.01,"v":1},{"d":11.1,"v":44},{"d":11.2,"v":141},{"d":11.29,"v":244},{"d":11.36,"v":286},{"d":11.41,"v":292},{"d":11.48,"v":272},{"d":11.55,"v":203},{"d":11.64,"v":127},{"d":11.71,"v":58},{"d":11.81,"v":13},{"d":11.9,"v":1},
      {"d":12.02,"v":6},{"d":12.11,"v":58},{"d":12.21,"v":189},{"d":12.3,"v":287},{"d":12.38,"v":298},{"d":12.44,"v":258},{"d":12.51,"v":196},{"d":12.58,"v":134},{"d":12.65,"v":86},{"d":12.7,"v":84},{"d":12.77,"v":30},{"d":12.86,"v":6},{"d":12.93,"v":1},
      {"d":13.02,"v":4},{"d":13.14,"v":68},{"d":13.24,"v":154},{"d":13.33,"v":206},{"d":13.4,"v":227},{"d":13.45,"v":230},{"d":13.5,"v":182},{"d":13.57,"v":141},{"d":13.66,"v":68},{"d":13.76,"v":20},{"d":13.85,"v":3},
      {"d":14.01,"v":10},{"d":14.11,"v":58},{"d":14.17,"v":172},{"d":14.23,"v":251},{"d":14.27,"v":213},{"d":14.33,"v":213},{"d":14.39,"v":141},{"d":14.44,"v":203},{"d":14.49,"v":220},{"d":14.55,"v":154},{"d":14.62,"v":90},{"d":14.7,"v":45},{"d":14.8,"v":12},{"d":14.87,"v":6},
      {"d":14.94,"v":23},{"d":15.06,"v":41},{"d":15.14,"v":86},{"d":15.23,"v":154},{"d":15.28,"v":203},{"d":15.33,"v":217},{"d":15.37,"v":292},{"d":15.4,"v":330},{"d":15.43,"v":272},{"d":15.48,"v":241},{"d":15.55,"v":206},{"d":15.6,"v":137},{"d":15.67,"v":68},{"d":15.74,"v":37},{"d":15.84,"v":13},{"d":15.91,"v":6},
      {"d":16.01,"v":10},{"d":16.11,"v":41},{"d":16.2,"v":99},{"d":16.27,"v":120},{"d":16.32,"v":179},{"d":16.37,"v":220},{"d":16.41,"v":210},{"d":16.45,"v":179},{"d":16.48,"v":217},{"d":16.53,"v":251},{"d":16.57,"v":196},{"d":16.61,"v":137},{"d":16.66,"v":51},{"d":16.74,"v":41},{"d":16.81,"v":17},{"d":16.89,"v":4},
      {"d":17.03,"v":10},{"d":17.12,"v":86},{"d":17.17,"v":161},{"d":17.25,"v":272},{"d":17.32,"v":320},{"d":17.4,"v":337},{"d":17.46,"v":323},{"d":17.54,"v":251},{"d":17.61,"v":154},{"d":17.68,"v":75},{"d":17.75,"v":27},{"d":17.85,"v":8},{"d":17.92,"v":10},
      {"d":18.02,"v":27},{"d":18.12,"v":86},{"d":18.17,"v":120},{"d":18.2,"v":127},{"d":18.23,"v":199},{"d":18.28,"v":172},{"d":18.35,"v":189},{"d":18.41,"v":217},{"d":18.48,"v":161},{"d":18.55,"v":144},{"d":18.61,"v":92},{"d":18.68,"v":86},{"d":18.78,"v":48},{"d":18.85,"v":22},{"d":18.94,"v":20},{"d":18.99,"v":37},
      {"d":19.09,"v":86},{"d":19.18,"v":120},{"d":19.26,"v":168},{"d":19.33,"v":175},{"d":19.43,"v":180},{"d":19.47,"v":161},{"d":19.52,"v":175},{"d":19.6,"v":127},{"d":19.67,"v":54},{"d":19.74,"v":44},{"d":19.81,"v":18},{"d":19.89,"v":13},{"d":19.96,"v":34},
      {"d":20.03,"v":51},{"d":20.12,"v":103},{"d":20.2,"v":182},{"d":20.27,"v":254},{"d":20.36,"v":260},{"d":20.42,"v":237},{"d":20.49,"v":217},{"d":20.56,"v":154},{"d":20.66,"v":86},{"d":20.73,"v":41},{"d":20.83,"v":27},{"d":20.88,"v":46},{"d":20.95,"v":44},
      {"d":21.03,"v":75},{"d":21.12,"v":120},{"d":21.2,"v":182},{"d":21.27,"v":248},{"d":21.34,"v":272},{"d":21.43,"v":303},{"d":21.49,"v":268},{"d":21.56,"v":196},{"d":21.63,"v":120},{"d":21.73,"v":51},{"d":21.83,"v":20},{"d":21.9,"v":17},{"d":21.97,"v":34},
      {"d":22.06,"v":103},{"d":22.16,"v":189},{"d":22.26,"v":310},{"d":22.36,"v":377},{"d":22.43,"v":374},{"d":22.48,"v":272},{"d":22.58,"v":223},{"d":22.66,"v":154},{"d":22.76,"v":68},{"d":22.83,"v":23},{"d":22.91,"v":20},{"d":22.99,"v":34},
      {"d":23.09,"v":103},{"d":23.16,"v":161},{"d":23.24,"v":241},{"d":23.34,"v":289},{"d":23.41,"v":251},{"d":23.47,"v":203},{"d":23.57,"v":154},{"d":23.67,"v":86},{"d":23.77,"v":34},{"d":23.87,"v":20},{"d":23.97,"v":41},
      {"d":24.03,"v":60},{"d":24.06,"v":120},{"d":24.08,"v":179},{"d":24.17,"v":185},{"d":24.24,"v":241},{"d":24.32,"v":396},{"d":24.39,"v":399},{"d":24.5,"v":327},{"d":24.57,"v":241},{"d":24.67,"v":130},{"d":24.77,"v":51},{"d":24.85,"v":23},{"d":24.93,"v":37},{"d":25.03,"v":51},
      {"d":25.08,"v":110},{"d":25.1,"v":154},{"d":25.13,"v":251},{"d":25.18,"v":223},{"d":25.25,"v":334},{"d":25.33,"v":408},{"d":25.4,"v":408},{"d":25.48,"v":351},{"d":25.58,"v":234},{"d":25.68,"v":103},{"d":25.78,"v":27},{"d":25.88,"v":22},{"d":25.98,"v":30},
      {"d":26.08,"v":103},{"d":26.18,"v":196},{"d":26.26,"v":241},{"d":26.34,"v":310},{"d":26.41,"v":296},{"d":26.47,"v":258},{"d":26.56,"v":189},{"d":26.63,"v":134},{"d":26.71,"v":86},{"d":26.79,"v":58},{"d":26.89,"v":51},{"d":26.99,"v":65},
      {"d":27.06,"v":100},{"d":27.09,"v":203},{"d":27.16,"v":218},{"d":27.23,"v":272},{"d":27.3,"v":296},{"d":27.35,"v":258},{"d":27.4,"v":303},{"d":27.48,"v":282},{"d":27.52,"v":286},{"d":27.57,"v":206},{"d":27.62,"v":161},{"d":27.69,"v":103},{"d":27.77,"v":41},{"d":27.87,"v":23},{"d":27.97,"v":34},
      {"d":28.05,"v":45},{"d":28.12,"v":82},{"d":28.17,"v":161},{"d":28.25,"v":241},{"d":28.31,"v":275},{"d":28.36,"v":258},{"d":28.4,"v":223},{"d":28.45,"v":220},{"d":28.52,"v":154},{"d":28.6,"v":137},{"d":28.67,"v":86},{"d":28.75,"v":44},{"d":28.85,"v":20},{"d":28.92,"v":23},{"d":29.0,"v":34}
    ]
  },
  "vconcat": [
    {
      "width": 2000,
      "height": 692,
      "layer": [
        {
          "data": {"name": "ldC"},
          "mark": {"type": "line", "strokeWidth": 4},
          "encoding": {
            "x": {"field": "d", "type": "quantitative", "scale": {"domain": [0.852, 29], "nice": false, "zero": false}, "axis": null},
            "y": {
              "field": "v", "type": "quantitative",
              "scale": {"domain": [120, 350], "nice": false, "zero": false},
              "axis": {
                "title": "Ld in W m⁻²",
                "values": [125, 150, 175, 200, 225, 250, 275, 300, 325, 350],
                "labelExpr": "datum.value % 100 == 50 ? datum.label : ''",
                "tickSize": {"condition": {"test": "datum.value % 50 == 0", "value": 80}, "value": 40},
                "labelPadding": 40,
                "titleX": -341,
                "titleBaseline": "middle"
              }
            },
            "color": {"datum": "CCLM", "type": "nominal"}
          }
        },
        {
          "data": {"name": "ldO"},
          "mark": {"type": "line", "strokeWidth": 4},
          "encoding": {
            "x": {"field": "d", "type": "quantitative"},
            "y": {"field": "v", "type": "quantitative"},
            "color": {"datum": "OBS", "type": "nominal"}
          }
        }
      ]
    },
    {
      "width": 2000,
      "height": 582,
      "layer": [
        {
          "data": {"name": "kdC"},
          "mark": {"type": "line", "strokeWidth": 4, "interpolate": "monotone"},
          "encoding": {
            "x": {
              "field": "d", "type": "quantitative",
              "scale": {"domain": [0.852, 29], "nice": false, "zero": false},
              "axis": {
                "title": "April",
                "format": "d",
                "values": [1, 2, 3, 4, 5, 6, 7, 8, 9, 10, 11, 12, 13, 14, 15, 16, 17, 18, 19, 20, 21, 22, 23, 24, 25, 26, 27, 28, 29],
                "labelExpr": "datum.value % 2 == 1 ? datum.label : ''",
                "tickSize": {"condition": {"test": "datum.value % 2 == 1", "value": 80}, "value": 40},
                "labelPadding": 45,
                "titlePadding": 60,
                "labelFlush": false
              }
            },
            "y": {
              "field": "v", "type": "quantitative",
              "scale": {"domain": [0, 450], "nice": false},
              "axis": {
                "title": "Kd in W m⁻²",
                "values": [0, 50, 100, 150, 200, 250, 300, 350, 400, 450],
                "labelExpr": "datum.value % 100 == 0 && datum.value < 450 ? datum.label : ''",
                "tickSize": 80,
                "labelPadding": 40,
                "titleX": -341,
                "titleBaseline": "middle"
              }
            },
            "color": {"datum": "CCLM", "type": "nominal"}
          }
        },
        {
          "data": {"name": "kdO"},
          "mark": {"type": "line", "strokeWidth": 4, "interpolate": "monotone"},
          "encoding": {
            "x": {"field": "d", "type": "quantitative"},
            "y": {"field": "v", "type": "quantitative"},
            "color": {"datum": "OBS", "type": "nominal"}
          }
        }
      ]
    }
  ],
  "spacing": 2,
  "resolve": {"scale": {"color": "shared"}},
  "config": {
    "view": {"stroke": null},
    "range": {"category": ["#ff0000", "#000000"]},
    "axis": {
      "grid": false,
      "domainColor": "#000000",
      "domainWidth": 4,
      "tickColor": "#000000",
      "tickWidth": 3.5,
      "labelFont": "Liberation Serif",
      "labelFontSize": 90,
      "labelColor": "#000000",
      "labelOverlap": false,
      "titleFont": "Liberation Serif",
      "titleFontSize": 90,
      "titleFontWeight": "bold",
      "titleColor": "#000000"
    },
    "legend": {
      "orient": "none",
      "legendX": 96,
      "legendY": 664,
      "title": null,
      "symbolType": "M-1,0H2.822",
      "symbolSize": 8100,
      "symbolStrokeWidth": 3,
      "labelFont": "Lato",
      "labelFontSize": 62,
      "labelColor": "#000000",
      "labelOffset": 114,
      "labelLimit": 0,
      "strokeColor": "#b3b3b3",
      "strokeWidth": 3,
      "fillColor": "#ffffff",
      "padding": 41,
      "rowPadding": 27
    }
  }
}
